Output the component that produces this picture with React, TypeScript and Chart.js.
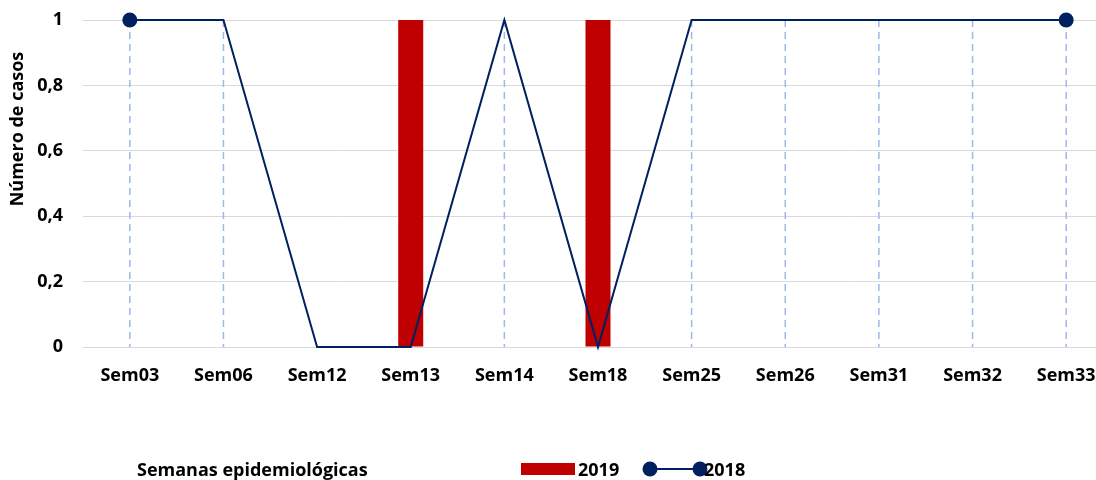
import React, { useEffect, useRef } from "react";
import { Chart, registerables } from "chart.js";

Chart.register(...registerables);

const categories = ["Sem03", "Sem06", "Sem12", "Sem13", "Sem14", "Sem18", "Sem25", "Sem26", "Sem31", "Sem32", "Sem33"];
const values2019 = [0, 0, 0, 1, 0, 1, 0, 0, 0, 0, 0];
const values2018 = [1, 1, 0, 0, 1, 0, 1, 1, 1, 1, 1];
const yTicks = [0, 0.2, 0.4, 0.6, 0.8, 1];
const series2019Label = "2019";
const series2018Label = "2018";
const yTitle = "Número de casos";
const xTitle = "Semanas epidemiológicas";

const FONT = "'Open Sans', Lato, sans-serif";
const FS = 18;
const RED = "#C00000";
const NAVY = "#002060";
const DROP = "#9DB9E6";

const fmt = (v: number) => String(Math.round(v * 10) / 10).replace(".", ",");

const extras = {
  id: "extras",
  beforeDatasetsDraw(chart: any) {
    const ctx = chart.ctx;
    const meta = chart.getDatasetMeta(1);
    const yScale = chart.scales.y;
    const y0 = yScale.getPixelForValue(0);
    ctx.save();
    ctx.strokeStyle = DROP;
    ctx.lineWidth = 1.5;
    ctx.setLineDash([7, 5]);
    meta.data.forEach((pt: any, i: number) => {
      if (values2018[i] > 0) {
        ctx.beginPath();
        ctx.moveTo(pt.x, pt.y);
        ctx.lineTo(pt.x, y0);
        ctx.stroke();
      }
    });
    ctx.restore();
  },
  afterDraw(chart: any) {
    const ctx = chart.ctx;
    ctx.save();
    ctx.font = `bold ${FS}px ${FONT}`;
    ctx.fillStyle = "#000";
    ctx.textAlign = "center";
    ctx.textBaseline = "middle";
    ctx.translate(18, 129);
    ctx.rotate(-Math.PI / 2);
    ctx.fillText(yTitle, 0, 0);
    ctx.restore();

    ctx.save();
    ctx.font = `bold ${FS}px ${FONT}`;
    ctx.fillStyle = "#000";
    ctx.textBaseline = "alphabetic";
    ctx.textAlign = "left";
    ctx.fillText(xTitle, 137, 476);
    ctx.fillStyle = RED;
    ctx.fillRect(521, 463, 54, 12);
    ctx.fillStyle = "#000";
    ctx.fillText(series2019Label, 578, 476);
    ctx.strokeStyle = NAVY;
    ctx.lineWidth = 2;
    ctx.beginPath();
    ctx.moveTo(650, 469);
    ctx.lineTo(700, 469);
    ctx.stroke();
    ctx.fillStyle = NAVY;
    [650, 700].forEach((x) => {
      ctx.beginPath();
      ctx.arc(x, 469, 7.5, 0, Math.PI * 2);
      ctx.fill();
    });
    ctx.fillStyle = "#000";
    ctx.fillText(series2018Label, 704, 476);
    ctx.restore();
  },
};

export default function App() {
  const ref = useRef<HTMLCanvasElement>(null);
  useEffect(() => {
    if (!ref.current) return;
    const last = values2018.length - 1;
    const chart = new Chart(ref.current, {
      type: "bar",
      data: {
        labels: categories,
        datasets: [
          {
            type: "bar",
            label: series2019Label,
            data: values2019,
            backgroundColor: RED,
            barPercentage: 0.267,
            categoryPercentage: 1,
            order: 2,
          },
          {
            type: "line",
            label: series2018Label,
            data: values2018,
            borderColor: NAVY,
            backgroundColor: NAVY,
            borderWidth: 2,
            tension: 0,
            clip: false,
            pointRadius: values2018.map((_, i) => (i === 0 || i === last ? 7.5 : 0)),
            pointHoverRadius: 0,
            pointBackgroundColor: NAVY,
            pointBorderWidth: 0,
            order: 1,
          } as any,
        ],
      },
      options: {
        responsive: false,
        animation: false,
        devicePixelRatio: 1,
        layout: { autoPadding: false, padding: { top: 20, right: 0, left: 0, bottom: 0 } },
        plugins: { legend: { display: false }, tooltip: { enabled: false } },
        scales: {
          x: {
            offset: true,
            grid: { display: false, drawTicks: false },
            border: { display: true, color: "#D9D9D9", width: 1 },
            ticks: {
              padding: 18,
              color: "#000",
              font: { family: FONT, size: FS, weight: "bold" },
              maxRotation: 0,
              autoSkip: false,
            },
            afterFit: (s: any) => {
              s.height = 133;
              s.paddingLeft = 0;
              s.paddingRight = 0;
            },
          },
          y: {
            min: 0,
            max: 1,
            afterBuildTicks: (s: any) => {
              s.ticks = yTicks.map((v) => ({ value: v }));
            },
            grid: { color: "#D9D9D9", drawTicks: false, lineWidth: 1 },
            border: { display: false },
            ticks: {
              padding: 20,
              color: "#000",
              font: { family: FONT, size: FS, weight: "bold" },
              callback: (v: any) => fmt(Number(v)),
            },
            afterFit: (s: any) => {
              s.width = 83;
              s.paddingTop = 0;
              s.paddingBottom = 0;
            },
          },
        },
      },
      plugins: [extras],
    });
    return () => chart.destroy();
  }, []);
  return (
    <div style={{ position: "absolute", left: 0, top: 0, width: 1096, height: 480, overflow: "hidden", background: "#fff" }}>
      <canvas ref={ref} width={1113} height={480} style={{ display: "block" }} />
    </div>
  );
}
